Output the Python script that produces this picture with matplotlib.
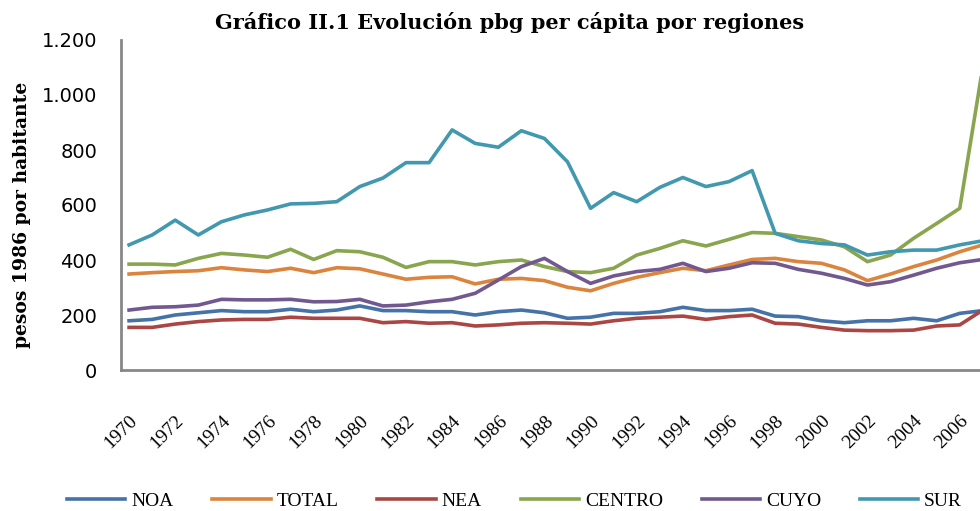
import matplotlib
matplotlib.use("Agg")
import matplotlib.pyplot as plt
from matplotlib.ticker import FuncFormatter

years = list(range(1970, 2008))

noa = [179, 184, 200, 208, 216, 212, 212, 221, 212, 218, 233, 216, 216, 212, 212, 200, 212, 218, 208,
       188, 192, 206, 206, 212, 228, 216, 216, 221, 196, 194, 179, 172, 179, 179, 188, 179, 206, 216]
total = [349, 354, 358, 361, 372, 364, 358, 370, 354, 372, 368, 349, 330, 337, 339, 313, 330, 333, 325,
         301, 288, 315, 337, 354, 370, 361, 382, 402, 406, 394, 388, 364, 325, 349, 376, 400, 430, 455]
nea = [155, 155, 167, 176, 182, 184, 184, 192, 188, 188, 188, 172, 176, 170, 172, 160, 164, 170, 172,
       170, 167, 179, 188, 192, 196, 184, 194, 200, 170, 167, 155, 145, 143, 143, 145, 160, 164, 218]
centro = [385, 385, 382, 406, 424, 418, 410, 439, 402, 434, 430, 410, 373, 394, 394, 382, 394, 400, 376,
          358, 354, 370, 418, 442, 470, 451, 475, 500, 497, 485, 473, 448, 394, 418, 479, 533, 588, 1103]
cuyo = [218, 228, 230, 236, 257, 255, 255, 257, 248, 249, 257, 233, 236, 248, 257, 279, 327, 376, 406,
        358, 315, 342, 358, 366, 388, 358, 370, 390, 388, 366, 352, 333, 309, 321, 345, 370, 390, 402]
sur = [455, 491, 545, 491, 539, 564, 582, 604, 606, 612, 667, 698, 754, 754, 873, 824, 810, 870, 842,
       757, 588, 645, 612, 664, 700, 667, 685, 725, 497, 470, 460, 455, 418, 430, 436, 436, 455, 470]

series = [("NOA", noa, "#4572A7"), ("TOTAL", total, "#DB843D"), ("NEA", nea, "#AA4643"),
          ("CENTRO", centro, "#89A54E"), ("CUYO", cuyo, "#71588F"), ("SUR", sur, "#4198AF")]

serif = ["Liberation Serif", "DejaVu Serif"]
wide_serif = ["DejaVu Serif"]
sans = ["DejaVu Sans"]

fig = plt.figure(figsize=(9.8, 5.11), dpi=100)
ax = fig.add_axes([121 / 980, 141 / 511, 863 / 980, 330 / 511])

for name, vals, col in series:
    ax.plot(years, vals, color=col, lw=2.6, label=name, solid_joinstyle="round")

ax.set_xlim(1969.65, 2007.05)
ax.set_ylim(0, 1200)
ax.set_yticks(range(0, 1201, 200))
ax.yaxis.set_major_formatter(FuncFormatter(lambda v, p: f"{int(v):,}".replace(",", ".")))
ax.set_xticks(range(1970, 2007, 2))
ax.set_xticklabels([str(y) for y in range(1970, 2007, 2)], rotation=45, ha="right",
                   rotation_mode="anchor", family=serif, fontsize=14)
for lab in ax.get_yticklabels():
    lab.set_family(sans)
    lab.set_fontsize(14)
ax.tick_params(axis="y", length=0, pad=17)
ax.tick_params(axis="x", length=0, pad=30)

for s in ["top", "right"]:
    ax.spines[s].set_visible(False)
for s in ["left", "bottom"]:
    ax.spines[s].set_color("#888888")
    ax.spines[s].set_linewidth(2)

fig.text(0.52, 0.955, "Gráfico II.1 Evolución pbg per cápita por regiones", ha="center",
         va="center", fontsize=15, fontweight="bold", family=wide_serif)
fig.text(0.022, 0.58, "pesos 1986 por habitante", rotation=90, ha="center", va="center",
         fontsize=13.5, fontweight="bold", family=wide_serif)

fig.legend(loc="center", bbox_to_anchor=(0.525, 0.02), ncol=6, frameon=False,
           prop={"family": serif, "size": 14}, handlelength=3.0, columnspacing=2.0,
           handletextpad=0.3)

fig.savefig("out.png", dpi=100)
